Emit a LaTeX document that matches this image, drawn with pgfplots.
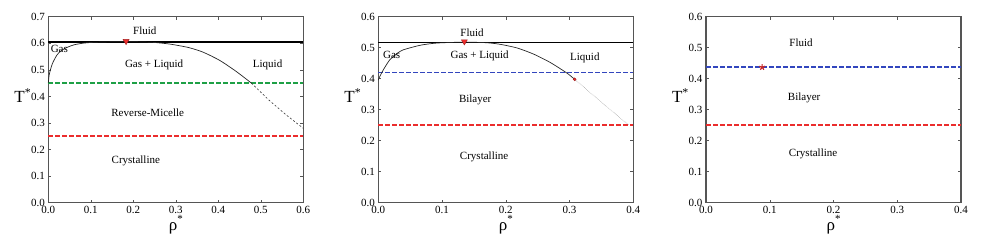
\documentclass[border=0pt]{standalone}
\usepackage{pgfplots}
\pgfplotsset{compat=1.18}
\usepackage{fontspec}
\setmainfont{Liberation Serif}
\definecolor{frame}{RGB}{85,85,85}
\definecolor{cgreen}{RGB}{30,160,70}
\definecolor{cblue}{RGB}{50,70,190}
\definecolor{cred}{RGB}{235,45,45}
\newcommand{\lbl}{\fontsize{11}{13}\selectfont}
\pgfplotsset{
  phase/.style={
    scale only axis, width=255pt, height=186pt, anchor=south west,
    axis line style={frame, line width=1.1pt},
    tick style={frame, line width=0.5pt},
    major tick length=3pt,
    tick align=inside,
    xtick pos=both, ytick pos=both,
    tick label style={font=\lbl},
    /pgf/number format/assume math mode=true,
    /pgf/number format/.cd, fixed, fixed zerofill, precision=1, /pgfplots/.cd,
    xlabel={ρ\raisebox{0.45em}{\fontsize{11}{11}\selectfont *}},
    ylabel={T\textsuperscript{*}},
    label style={font=\fontsize{17}{19}\selectfont},
    xlabel style={at={(axis description cs:0.5,-0.12)}, anchor=center},
    ylabel style={at={(axis description cs:-0.1,0.574)}, anchor=center, rotate=-90},
    clip=false,
  },
  hdash/.style={line width=1.7pt, dash pattern=on 4.5pt off 2.5pt},
}
\begin{document}
\begin{tikzpicture}
\useasboundingbox (0,0) rectangle (981pt,244pt);
% Panel 1
\begin{axis}[phase, at={(48.3pt,41.3pt)}, xmin=0, xmax=0.6, ymin=0, ymax=0.7,
  xtick={0,0.1,0.2,0.3,0.4,0.5,0.6}, ytick={0,0.1,0.2,0.3,0.4,0.5,0.6,0.7}]
\addplot[black, line width=1.3pt] coordinates {(0,0.605) (0.6,0.605)};
\addplot[color=cgreen, hdash] coordinates {(0,0.45) (0.6,0.45)};
\addplot[color=cred, hdash] coordinates {(0,0.25) (0.6,0.25)};
\addplot[black!85, line width=0.7pt, smooth, tension=0.4] coordinates {
 (0,0.45) (0.002,0.48) (0.005,0.50) (0.01,0.525) (0.02,0.555) (0.03,0.572)
 (0.045,0.585) (0.06,0.594) (0.08,0.600) (0.10,0.603) (0.13,0.605) (0.185,0.606)
 (0.22,0.605) (0.25,0.603) (0.286,0.597) (0.33,0.584) (0.365,0.566) (0.404,0.535)
 (0.443,0.493) (0.478,0.45)};
\addplot[black!80, line width=0.6pt, dash pattern=on 2pt off 2pt] coordinates {
 (0.478,0.45) (0.52,0.385) (0.56,0.33) (0.6,0.28)};
\addplot[only marks, mark=triangle*, mark size=3.5pt, mark options={rotate=180, fill=cred, draw=cred!70!black}] coordinates {(0.183,0.608)};
\node[font=\lbl] at (axis cs:0.227,0.647) {Fluid};
\node[font=\lbl] at (axis cs:0.026,0.577) {Gas};
\node[font=\lbl] at (axis cs:0.249,0.52) {Gas + Liquid};
\node[font=\lbl] at (axis cs:0.516,0.52) {Liquid};
\node[font=\lbl] at (axis cs:0.234,0.339) {Reverse-Micelle};
\node[font=\lbl] at (axis cs:0.206,0.158) {Crystalline};
\end{axis}
% Panel 2
\begin{axis}[phase, at={(378.3pt,41.3pt)}, xmin=0, xmax=0.4, ymin=0, ymax=0.6,
  xtick={0,0.1,0.2,0.3,0.4}, ytick={0,0.1,0.2,0.3,0.4,0.5,0.6}]
\addplot[black, line width=1.3pt] coordinates {(0,0.517) (0.4,0.517)};
\addplot[color=cblue, hdash] coordinates {(0,0.42) (0.4,0.42)};
\addplot[color=cred, hdash] coordinates {(0,0.25) (0.4,0.25)};
\addplot[black!85, line width=0.7pt, smooth, tension=0.4] coordinates {
 (0,0.396) (0.003,0.41) (0.008,0.429) (0.018,0.461) (0.03,0.482) (0.039,0.493)
 (0.066,0.508) (0.092,0.515) (0.135,0.518) (0.17,0.516) (0.191,0.511) (0.218,0.499)
 (0.244,0.479) (0.27,0.452) (0.296,0.418) (0.308,0.398)};
\addplot[black!60, line width=0.4pt, densely dotted] coordinates {
 (0.308,0.398) (0.349,0.326) (0.393,0.25)};
\addplot[only marks, mark=triangle*, mark size=3.5pt, mark options={rotate=180, fill=cred, draw=cred!70!black}] coordinates {(0.135,0.52)};
\addplot[only marks, mark=*, mark size=1.5pt, mark options={fill=cred, draw=cred!70!black}] coordinates {(0.308,0.398)};
\node[font=\lbl] at (axis cs:0.147,0.548) {Fluid};
\node[font=\lbl] at (axis cs:0.021,0.476) {Gas};
\node[font=\lbl] at (axis cs:0.159,0.473) {Gas + Liquid};
\node[font=\lbl] at (axis cs:0.324,0.468) {Liquid};
\node[font=\lbl] at (axis cs:0.152,0.331) {Bilayer};
\node[font=\lbl] at (axis cs:0.166,0.148) {Crystalline};
\end{axis}
% Panel 3
\begin{axis}[phase, at={(706pt,41.3pt)}, xmin=0, xmax=0.4, ymin=0, ymax=0.6,
  xtick={0,0.1,0.2,0.3,0.4}, ytick={0,0.1,0.2,0.3,0.4,0.5,0.6}]
\addplot[color=cblue, hdash] coordinates {(0,0.437) (0.4,0.437)};
\addplot[color=cred, hdash] coordinates {(0,0.25) (0.4,0.25)};
\addplot[only marks, mark=star, mark size=3pt, mark options={draw=cred!85!black, line width=1.2pt}] coordinates {(0.088,0.437)};
\node[font=\lbl] at (axis cs:0.149,0.517) {Fluid};
\node[font=\lbl] at (axis cs:0.154,0.337) {Bilayer};
\node[font=\lbl] at (axis cs:0.168,0.159) {Crystalline};
\end{axis}
\end{tikzpicture}
\end{document}
